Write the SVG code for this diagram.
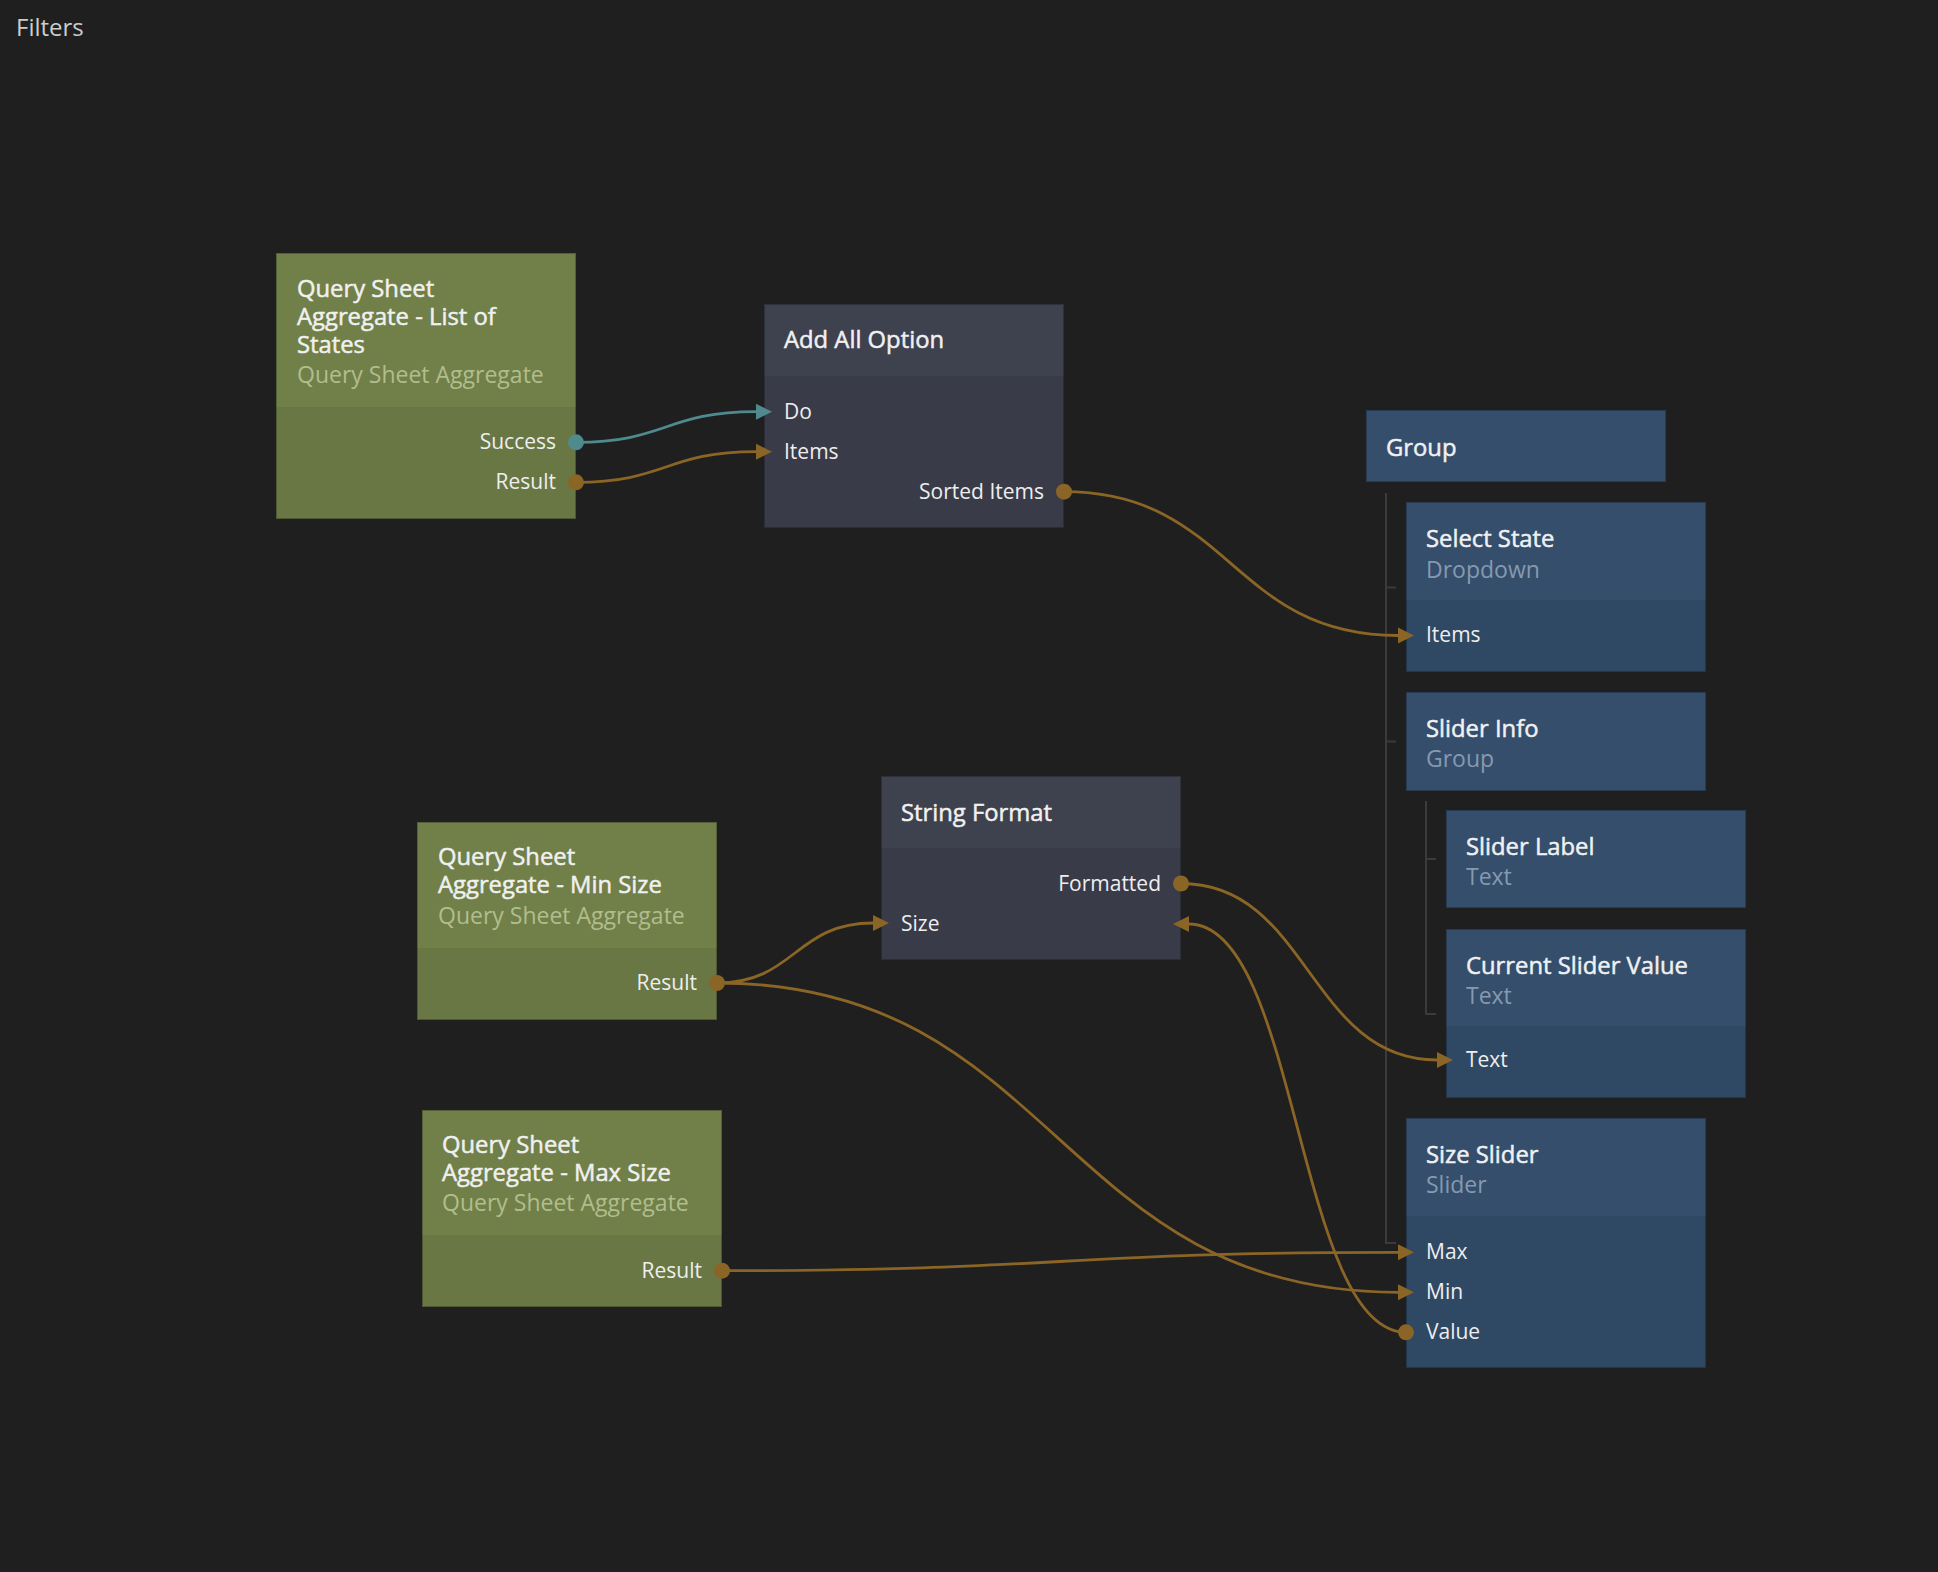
<svg xmlns="http://www.w3.org/2000/svg" width="1938" height="1572" viewBox="0 0 1938 1572">
<style>
.t{font-family:"Open Sans","Noto Sans","Liberation Sans",sans-serif;font-size:23.8px;font-weight:400;fill:#f0f0f0;stroke:#f0f0f0;stroke-width:0.5}
.s{font-family:"Open Sans","Noto Sans","Liberation Sans",sans-serif;font-size:23px;font-weight:400}
.sg{fill:#b2bd8e}
.sb{fill:#8699b0}
.p{font-family:"Open Sans","Noto Sans","Liberation Sans",sans-serif;font-size:21px;font-weight:400;fill:#eeeeee}
.r{text-anchor:end}
.gh{fill:#718048}.gb{fill:#687743}
.kh{fill:#3e414e}.kb{fill:#393b48}
.bh{fill:#344e6c}.bb{fill:#2f4864}
.edge{stroke:rgba(0,0,0,0.25);stroke-width:1;fill:none}
.c{fill:none;stroke:#8a6525;stroke-width:2.8}
.ct{fill:none;stroke:#4e8a8e;stroke-width:2.8}
.ah{fill:#8a6525}.aht{fill:#4e8a8e}
.dot{fill:#8a6525}.dott{fill:#4e8a8e}
.tree{fill:none;stroke:#3b3b3b;stroke-width:2}
</style>
<rect x="0" y="0" width="1938" height="1572" fill="#1f1f1f"/>
<text x="16" y="36" font-family="Open Sans, Noto Sans, Liberation Sans, sans-serif" font-size="24" fill="#cccccc">Filters</text>

<g id="tree-lines">
<path class="tree" d="M1386 493 V1243 H1396 M1386 587.5 H1396 M1386 741.5 H1396"/>
<path class="tree" d="M1426 801 V1014 H1436 M1426 859 H1436"/>
</g>

<g id="node-qs-list">
<rect class="gh" x="276" y="253" width="300" height="154"/>
<rect class="gb" x="276" y="407" width="300" height="112"/>
<rect class="edge" x="276.5" y="253.5" width="299" height="265"/>
<text class="t" x="297" y="297">Query Sheet</text>
<text class="t" x="297" y="325">Aggregate - List of</text>
<text class="t" x="297" y="353">States</text>
<text class="s sg" x="297" y="383">Query Sheet Aggregate</text>
<text class="p r" x="556" y="449">Success</text>
<text class="p r" x="556" y="489">Result</text>
</g>

<g id="node-add-all">
<rect class="kh" x="764" y="304" width="300" height="72"/>
<rect class="kb" x="764" y="376" width="300" height="152"/>
<rect class="edge" x="764.5" y="304.5" width="299" height="223"/>
<text class="t" x="784" y="348">Add All Option</text>
<text class="p" x="784" y="419">Do</text>
<text class="p" x="784" y="459">Items</text>
<text class="p r" x="1044" y="499">Sorted Items</text>
</g>

<g id="node-group">
<rect class="bh" x="1366" y="410" width="300" height="72"/>
<rect class="edge" x="1366.5" y="410.5" width="299" height="71"/>
<text class="t" x="1386" y="456">Group</text>
</g>

<g id="node-select-state">
<rect class="bh" x="1406" y="502" width="300" height="98"/>
<rect class="bb" x="1406" y="600" width="300" height="72"/>
<rect class="edge" x="1406.5" y="502.5" width="299" height="169"/>
<text class="t" x="1426" y="547">Select State</text>
<text class="s sb" x="1426" y="578">Dropdown</text>
<text class="p" x="1426" y="642">Items</text>
</g>

<g id="node-slider-info">
<rect class="bh" x="1406" y="692" width="300" height="99"/>
<rect class="edge" x="1406.5" y="692.5" width="299" height="98"/>
<text class="t" x="1426" y="737">Slider Info</text>
<text class="s sb" x="1426" y="767">Group</text>
</g>

<g id="node-slider-label">
<rect class="bh" x="1446" y="810" width="300" height="98"/>
<rect class="edge" x="1446.5" y="810.5" width="299" height="97"/>
<text class="t" x="1466" y="855">Slider Label</text>
<text class="s sb" x="1466" y="885">Text</text>
</g>

<g id="node-current-slider-value">
<rect class="bh" x="1446" y="929" width="300" height="97"/>
<rect class="bb" x="1446" y="1026" width="300" height="72"/>
<rect class="edge" x="1446.5" y="929.5" width="299" height="168"/>
<text class="t" x="1466" y="974">Current Slider Value</text>
<text class="s sb" x="1466" y="1004">Text</text>
<text class="p" x="1466" y="1067">Text</text>
</g>

<g id="node-size-slider">
<rect class="bh" x="1406" y="1118" width="300" height="98"/>
<rect class="bb" x="1406" y="1216" width="300" height="152"/>
<rect class="edge" x="1406.5" y="1118.5" width="299" height="249"/>
<text class="t" x="1426" y="1163">Size Slider</text>
<text class="s sb" x="1426" y="1193">Slider</text>
<text class="p" x="1426" y="1259">Max</text>
<text class="p" x="1426" y="1299">Min</text>
<text class="p" x="1426" y="1339">Value</text>
</g>

<g id="node-string-format">
<rect class="kh" x="881" y="776" width="300" height="72"/>
<rect class="kb" x="881" y="848" width="300" height="112"/>
<rect class="edge" x="881.5" y="776.5" width="299" height="183"/>
<text class="t" x="901" y="821">String Format</text>
<text class="p r" x="1161" y="891">Formatted</text>
<text class="p" x="901" y="931">Size</text>
</g>

<g id="node-qs-min">
<rect class="gh" x="417" y="822" width="300" height="126"/>
<rect class="gb" x="417" y="948" width="300" height="72"/>
<rect class="edge" x="417.5" y="822.5" width="299" height="197"/>
<text class="t" x="438" y="865">Query Sheet</text>
<text class="t" x="438" y="893">Aggregate - Min Size</text>
<text class="s sg" x="438" y="924">Query Sheet Aggregate</text>
<text class="p r" x="697" y="990">Result</text>
</g>

<g id="node-qs-max">
<rect class="gh" x="422" y="1110" width="300" height="125"/>
<rect class="gb" x="422" y="1235" width="300" height="72"/>
<rect class="edge" x="422.5" y="1110.5" width="299" height="196"/>
<text class="t" x="442" y="1153">Query Sheet</text>
<text class="t" x="442" y="1181">Aggregate - Max Size</text>
<text class="s sg" x="442" y="1211">Query Sheet Aggregate</text>
<text class="p r" x="702" y="1278">Result</text>
</g>

<g id="connectors">
<path class="ct" d="M576 442.3 C666 442.3 666 411.7 756 411.7"/>
<polygon class="aht" points="772,411.7 756,403.7 756,419.7"/>
<circle class="dott" cx="576" cy="442.3" r="8"/>

<path class="c" d="M576 482.3 C666 482.3 666 451.7 756 451.7"/>
<polygon class="ah" points="772,451.7 756,443.7 756,459.7"/>
<circle class="dot" cx="576" cy="482.3" r="8"/>

<path class="c" d="M1064 491.7 C1231 491.7 1231 635.5 1398 635.5"/>
<polygon class="ah" points="1414,635.5 1398,627.5 1398,643.5"/>
<circle class="dot" cx="1064" cy="491.7" r="8"/>

<path class="c" d="M717 983 C795 983 795 923 873 923"/>
<polygon class="ah" points="889,923 873,915 873,931"/>

<path class="c" d="M717 983 C1057 983 1058 1292.3 1398 1292.3"/>
<polygon class="ah" points="1414,1292.3 1398,1284.3 1398,1300.3"/>
<circle class="dot" cx="717" cy="983" r="8"/>

<path class="c" d="M722 1270.7 C1060 1270.7 1060 1252.3 1398 1252.3"/>
<polygon class="ah" points="1414,1252.3 1398,1244.3 1398,1260.3"/>
<circle class="dot" cx="722" cy="1270.7" r="8"/>

<path class="c" d="M1181 883.5 C1309 883.5 1309 1060 1437 1060"/>
<polygon class="ah" points="1453,1060 1437,1052 1437,1068"/>
<circle class="dot" cx="1181" cy="883.5" r="8"/>

<path class="c" d="M1406 1332.3 C1297 1332.3 1298 924 1189 924"/>
<polygon class="ah" points="1173,924 1189,916 1189,932"/>
<circle class="dot" cx="1406" cy="1332.3" r="8"/>
</g>
</svg>
